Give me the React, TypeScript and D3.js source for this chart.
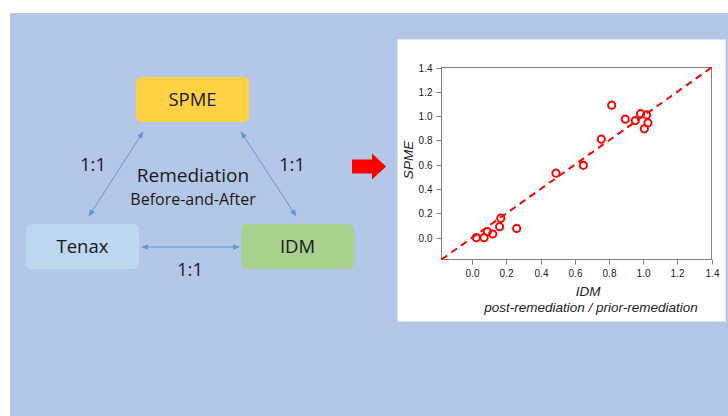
import React from 'react';
import * as d3 from 'd3';

// scatter data: IDM ratio vs SPME ratio (post / prior remediation)
const idmValues = [0.024, 0.069, 0.088, 0.12, 0.16, 0.167, 0.26, 0.49, 0.65, 0.755, 0.816, 0.895, 0.954, 0.985, 1.02, 1.028, 1.007];
const spmeValues = [0.0, 0.0, 0.05, 0.03, 0.09, 0.16, 0.076, 0.53, 0.595, 0.81, 1.09, 0.975, 0.963, 1.02, 1.01, 0.944, 0.895];
const tickValues = [0, 0.2, 0.4, 0.6, 0.8, 1.0, 1.2, 1.4];
const axisMin = -0.18;
const axisMax = 1.4;

const methodBoxes = [
  { name: 'SPME', x: 136, y: 77, fill: '#ffd246' },
  { name: 'Tenax', x: 26, y: 224, fill: '#bdd7ee' },
  { name: 'IDM', x: 241, y: 224, fill: '#a9d18e' },
];

export default function App() {
  const width = 728;
  const height = 416;

  const plot = { left: 441.5, right: 711.5, top: 67.5, bottom: 259.5 };

  const x = d3.scaleLinear().domain([axisMin, axisMax]).range([plot.left, plot.right]);
  const y = d3.scaleLinear().domain([axisMin, axisMax]).range([plot.bottom, plot.top]);

  const points = idmValues.map((v, i) => ({ x: v, y: spmeValues[i] }));

  const arrowBlue = '#5b9bd5';
  const diagramFont = '"Open Sans", "DejaVu Sans", sans-serif';
  const chartFont = '"Liberation Sans", Arial, sans-serif';

  const translate = (a: number, b: number) => `translate(${a},${b})`;

  return (
    <svg width={width} height={height} style={{ position: 'absolute', left: 0, top: 0 }}>
      <defs>
        <marker id="ah" viewBox="0 0 10 10" refX={9} refY={5} markerWidth={7} markerHeight={7} orient="auto-start-reverse">
          <path d="M0,1 L10,5 L0,9 z" fill={arrowBlue} />
        </marker>
      </defs>
      <rect x={0} y={0} width={width} height={height} fill="#ffffff" />
      <rect x={10} y={13} width={width - 10} height={height - 13} fill="#b4c7e7" />

      {/* left diagram */}
      {methodBoxes.map((b) => (
        <g key={b.name}>
          <rect x={b.x} y={b.y} width={113} height={45} rx={6} fill={b.fill} />
          <text x={b.x + 56.5} y={b.y + 22.5} dy="0.35em" textAnchor="middle" fontFamily={diagramFont} fontSize={18.5} fill="#1a1a1a">
            {b.name}
          </text>
        </g>
      ))}
      <line x1={143} y1={132} x2={89} y2={216} stroke={arrowBlue} strokeWidth={1} markerStart="url(#ah)" markerEnd="url(#ah)" />
      <line x1={241} y1={132} x2={296} y2={216} stroke={arrowBlue} strokeWidth={1} markerStart="url(#ah)" markerEnd="url(#ah)" />
      <line x1={142} y1={247} x2={239} y2={247} stroke={arrowBlue} strokeWidth={1} markerStart="url(#ah)" markerEnd="url(#ah)" />
      <g fontFamily={diagramFont} fill="#1a1a1a" textAnchor="middle">
        <text x={93} y={165} dy="0.35em" fontSize={18.5}>1:1</text>
        <text x={292} y={165} dy="0.35em" fontSize={18.5}>1:1</text>
        <text x={190} y={270} dy="0.35em" fontSize={18.5}>1:1</text>
        <text x={193} y={175} dy="0.35em" fontSize={19}>Remediation</text>
        <text x={193} y={199} dy="0.35em" fontSize={16}>Before-and-After</text>
      </g>

      {/* red arrow */}
      <path d="M352,159.5 L372,159.5 L372,153.5 L386,166.5 L372,179.5 L372,173.5 L352,173.5 z" fill="#ff0000" />

      {/* chart panel */}
      <rect x={397.5} y={39.5} width={328} height={282} fill="#ffffff" stroke="#dbe5f4" strokeWidth={1} />
      <rect x={plot.left} y={plot.top} width={plot.right - plot.left} height={plot.bottom - plot.top} fill="none" stroke="#808080" strokeWidth={1} />

      <g fontFamily={chartFont} fontSize={10} fill="#222">
        {tickValues.map((t) => (
          <g key={'y' + t} transform={translate(plot.left, Math.round(y(t)) + 0.5)}>
            <line x1={-5} x2={0} stroke="#808080" />
            <text x={-9} dy="0.35em" textAnchor="end">{t.toFixed(1)}</text>
          </g>
        ))}
        {tickValues.map((t) => (
          <g key={'x' + t} transform={translate(Math.round(x(t)) + 0.5, plot.bottom)}>
            <line y1={0} y2={5} stroke="#808080" />
            <text y={14} dy="0.35em" textAnchor="middle">{t.toFixed(1)}</text>
          </g>
        ))}
      </g>

      <line x1={x(axisMin)} y1={y(axisMin)} x2={x(axisMax)} y2={y(axisMax)} stroke="#ff0000" strokeWidth={2} strokeDasharray="7,5" />

      {points.map((p, i) => (
        <circle key={i} cx={x(p.x)} cy={y(p.y)} r={3.6} fill="none" stroke="#ff0000" strokeWidth={2} />
      ))}

      <g fontFamily={chartFont} fontStyle="italic" fill="#222">
        <text transform={`${translate(408, 160)} rotate(-90)`} dy="0.35em" textAnchor="middle" fontSize={13.5}>SPME</text>
        <text x={588} y={296} textAnchor="middle" fontSize={13.5}>IDM</text>
        <text x={591} y={312} textAnchor="middle" fontSize={13.5}>post-remediation / prior-remediation</text>
      </g>
    </svg>
  );
}
